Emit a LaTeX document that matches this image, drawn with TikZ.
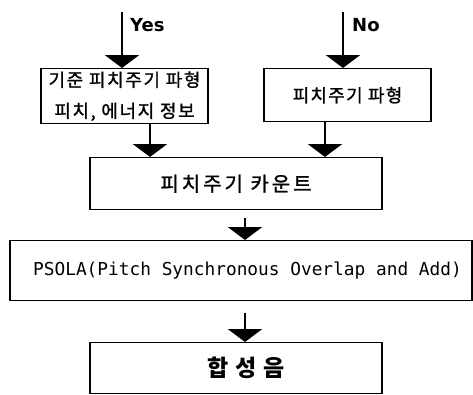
\documentclass[tikz,border=0pt]{standalone}
\usepackage{fontspec}
\setmainfont{DejaVu Sans}
\newfontfamily\kr{Noto Sans CJK KR}
\newfontfamily\krm[FakeBold=1.2]{Noto Sans CJK KR}
\newfontfamily\monof{DejaVu Sans Mono}
\usetikzlibrary{arrows.meta}
\begin{document}
\begin{tikzpicture}[x=1pt,y=-1pt,
  boxn/.style={draw,line width=1.4pt,minimum width=#1,inner sep=0pt,anchor=north},
  flow/.style={line width=2.8pt,-{Triangle[length=13pt,width=34pt]}},
  lab/.style={font=\fontsize{18}{20}\selectfont\bfseries,anchor=west,inner sep=0pt}]
\useasboundingbox (0,0) rectangle (473,394);
% boxes
\node[boxn=167pt,minimum height=55pt,align=center,font=\krm\addfontfeature{LetterSpace=9}\fontsize{18}{31}\selectfont] (b1) at (124.5,68) {기준 피치주기 파형\\피치, 에너지 정보};
\node[boxn=167pt,minimum height=53pt,font=\krm\addfontfeature{LetterSpace=7}\fontsize{18}{20}\selectfont] (b2) at (347.5,68) {피치주기 파형};
\node[boxn=292pt,minimum height=52pt,font=\krm\addfontfeature{LetterSpace=15}\fontsize{20}{22}\selectfont] (b3) at (236,157) {피치주기 카운트};
\node[boxn=462pt,minimum height=60pt,font=\monof\fontsize{17.8}{20}\selectfont] (b4) at (241,240) {\hspace*{13pt}PSOLA(Pitch Synchronous Overlap and Add)};
\node[boxn=292pt,minimum height=51pt,font=\kr\addfontfeature{LetterSpace=30}\fontsize{23}{25}\selectfont\bfseries] (b5) at (236,342) {\hspace*{20pt}합성음};
% free ends
\coordinate (yes) at (122,12);
\coordinate (no) at (343,12);
% arrows
\draw[flow] (yes) -- (yes |- b1.north);
\draw[flow] (no) -- (no |- b2.north);
\draw[flow] (b1.south -| 150,0) -- (b3.north -| 150,0);
\draw[flow] (b2.south -| 325,0) -- (b3.north -| 325,0);
\draw[flow,shorten <=8pt] (b3.south -| 245,0) -- (b4.north -| 245,0);
\draw[flow,shorten <=12pt] (b4.south -| 245,0) -- (b5.north -| 245,0);
% labels
\node[lab] (ly) at (130,25) {Yes};
\node[lab] (ln) at (352,25) {No};
\end{tikzpicture}
\end{document}
